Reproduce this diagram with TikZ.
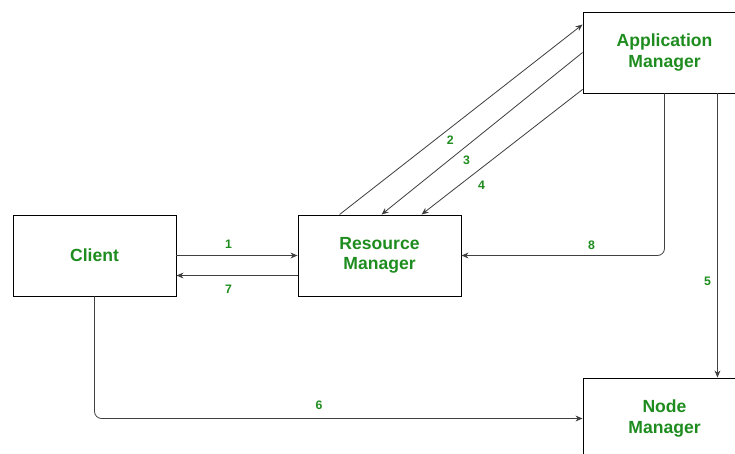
\documentclass[tikz,border=0pt]{standalone}
\usepackage{fontspec}
\setmainfont{Liberation Sans}
\usetikzlibrary{arrows.meta}
\definecolor{labgreen}{RGB}{30,140,30}

\begin{document}
\begin{tikzpicture}[x=0.03cm, y=-0.03cm, >={Stealth[length=6pt,width=5pt]},
    comp/.style={draw=black, line width=0.8pt, minimum width=4.89cm, minimum height=2.43cm,
      align=center, text=labgreen, font=\fontsize{15}{17.5}\selectfont\bfseries},
    flow/.style={->, draw=black!75, line width=0.7pt},
    num/.style={text=labgreen, font=\fontsize{10.5}{12}\selectfont\bfseries}]
  % page in pixels of the reference (0.03 cm per pixel, y down)
  \useasboundingbox (0,0) rectangle (735,454);
  \clip (0,0) rectangle (735,454);
  % components
  \node[comp] (client) at (94.5,255.5) {Client};
  \node[comp] (rm) at (379.5,255.5) {Resource\\Manager};
  \node[comp] (am) at (664.5,52.5) {Application\\Manager};
  \node[comp] (nm) at (664.5,418.5) {Node\\Manager};
  % client <-> resource manager
  \draw[flow] (client.east) -- node[num, pos=0.43, yshift=0.33cm] {1} (rm.west);
  \draw[flow] ([yshift=-0.6cm]rm.west) -- node[num, pos=0.57, yshift=-0.42cm] {7} ([yshift=-0.6cm]client.east);
  % resource manager <-> application manager
  \draw[flow] ([xshift=1.26cm]rm.north west) -- node[num, pos=0.39, xshift=0.48cm] {2} ([yshift=-0.39cm]am.north west);
  \draw[flow] ([yshift=-1.23cm]am.north west) -- node[num, pos=0.667, xshift=0.54cm] {3} ([xshift=2.52cm]rm.north west);
  \draw[flow] ([yshift=0.12cm]am.south west) -- node[num, pos=0.77, xshift=0.69cm] {4} ([xshift=3.72cm]rm.north west);
  \draw[flow, rounded corners=6pt] (am.south) |- node[num, pos=0.68, yshift=0.3cm] {8} (rm.east);
  % node manager
  \draw[flow] ([xshift=-0.87cm]am.south east) -- node[num, pos=0.66, xshift=-0.3cm] {5} ([xshift=-0.87cm]nm.north east);
  \draw[flow, rounded corners=6pt] (client.south) |- node[num, pos=0.73, yshift=0.39cm] {6} (nm.west);
\end{tikzpicture}
\end{document}
